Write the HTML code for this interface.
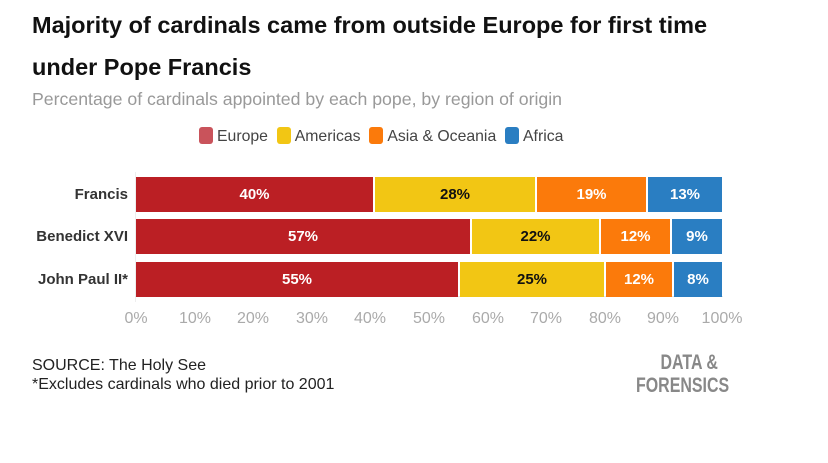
<!DOCTYPE html>
<html><head><meta charset="utf-8"><style>
body{margin:0;width:828px;height:463px;background:#fff;font-family:"Liberation Sans",sans-serif;position:relative;overflow:hidden}
.a{position:absolute;white-space:nowrap}
.b{position:absolute;height:35px;color:#fff;font-weight:bold;font-size:15px;line-height:35px;text-align:center}
.e{background:#bb1f24}.m{background:#f2c614;color:#111}.o{background:#fb7a0b}.f{background:#2a7ec2}
.lab{position:absolute;right:700px;font-weight:bold;font-size:15px;color:#333;line-height:35px}
.t{position:absolute;top:310px;font-size:16px;color:#aaa;transform:translateX(-50%)}
.tk{position:absolute;top:296px;width:1px;height:6px;background:#ddd}
.sw{display:inline-block;width:14px;height:17px;border-radius:3px;vertical-align:-3px;margin-right:4px}
</style></head><body>
<div class="a" style="left:32px;top:4px;font-size:23.5px;font-weight:bold;color:#111;line-height:42px">Majority of cardinals came from outside Europe for first time<br>under Pope Francis</div>
<div class="a" style="left:32px;top:89px;font-size:17.7px;color:#999">Percentage of cardinals appointed by each pope, by region of origin</div>
<div class="a" style="left:199px;top:127px;font-size:15.8px;color:#444"><span class="sw" style="background:#c9535b"></span>Europe&nbsp;&nbsp;<span class="sw" style="background:#f2c614"></span>Americas&nbsp;&nbsp;<span class="sw" style="background:#fb7a0b"></span>Asia &amp; Oceania&nbsp;&nbsp;<span class="sw" style="background:#2a7ec2"></span>Africa</div>
<div style="position:absolute;left:135px;top:172px;width:1px;height:130px;background:#eee"></div>
<div style="position:absolute;left:135px;top:296px;width:588px;height:1px;background:#e5e5e5"></div>
<div class="lab" style="top:177px">Francis</div>
<div class="lab" style="top:219px">Benedict XVI</div>
<div class="lab" style="top:262px">John Paul II*</div>
<div class="b e" style="left:136px;top:177px;width:237px">40%</div>
<div class="b m" style="left:375px;top:177px;width:160px">28%</div>
<div class="b o" style="left:537px;top:177px;width:109px">19%</div>
<div class="b f" style="left:648px;top:177px;width:74px">13%</div>
<div class="b e" style="left:136px;top:219px;width:334px">57%</div>
<div class="b m" style="left:472px;top:219px;width:127px">22%</div>
<div class="b o" style="left:601px;top:219px;width:69px">12%</div>
<div class="b f" style="left:672px;top:219px;width:50px">9%</div>
<div class="b e" style="left:136px;top:262px;width:322px">55%</div>
<div class="b m" style="left:460px;top:262px;width:144px">25%</div>
<div class="b o" style="left:606px;top:262px;width:66px">12%</div>
<div class="b f" style="left:674px;top:262px;width:48px">8%</div>
<div class="t" style="left:136px">0%</div><div class="t" style="left:195px">10%</div><div class="t" style="left:253px">20%</div><div class="t" style="left:312px">30%</div><div class="t" style="left:370px">40%</div><div class="t" style="left:429px">50%</div><div class="t" style="left:488px">60%</div><div class="t" style="left:546px">70%</div><div class="t" style="left:605px">80%</div><div class="t" style="left:663px">90%</div><div class="t" style="left:722px">100%</div>
<div class="a" style="left:32px;top:356px;font-size:16px;color:#222;line-height:19px">SOURCE: The Holy See<br>*Excludes cardinals who died prior to 2001</div>
<div class="a" style="left:636px;top:351px;font-size:21px;font-weight:bold;color:#888;line-height:23px;text-align:center;transform:scaleX(0.76);transform-origin:left">&nbsp;&nbsp;&nbsp;DATA &amp;<br>FORENSICS</div>
</body></html>
